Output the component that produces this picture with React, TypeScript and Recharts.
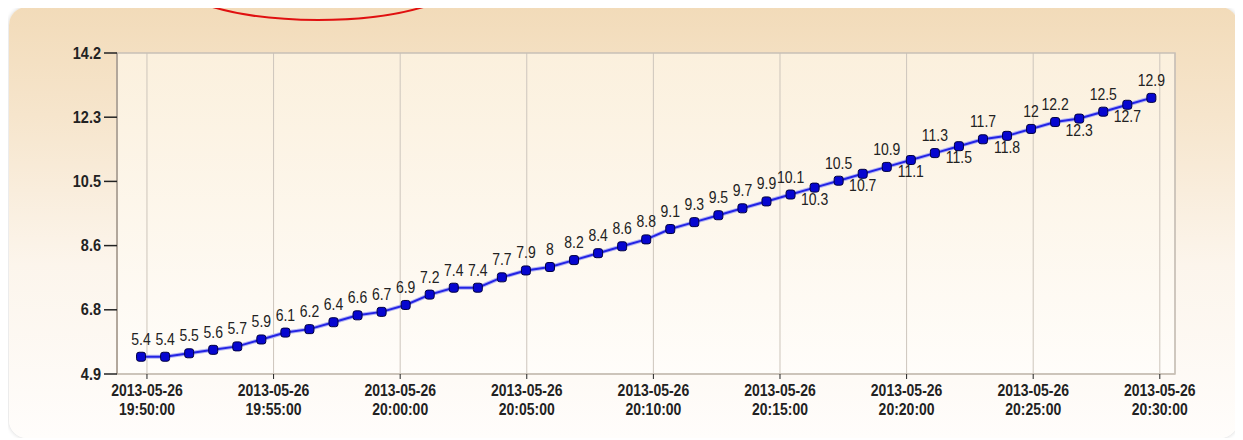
import React from 'react';
import { LineChart, Line, XAxis, YAxis, CartesianGrid, ReferenceArea, LabelList } from 'recharts';

// sample times (hh:mm:ss, 2013-05-26) and values
const times = [
  '19:49:46', '19:50:43', '19:51:40', '19:52:37', '19:53:34', '19:54:31', '19:55:28', '19:56:25',
  '19:57:22', '19:58:19', '19:59:16', '20:00:13', '20:01:10', '20:02:07', '20:03:04', '20:04:01',
  '20:04:58', '20:05:55', '20:06:52', '20:07:49', '20:08:46', '20:09:43', '20:10:40', '20:11:37',
  '20:12:34', '20:13:31', '20:14:28', '20:15:25', '20:16:22', '20:17:19', '20:18:16', '20:19:13',
  '20:20:10', '20:21:07', '20:22:04', '20:23:01', '20:23:58', '20:24:55', '20:25:52', '20:26:49',
  '20:27:46', '20:28:43', '20:29:40',
];
const values = [
  5.4, 5.4, 5.5, 5.6, 5.7, 5.9, 6.1, 6.2, 6.4, 6.6, 6.7, 6.9, 7.2, 7.4, 7.4, 7.7, 7.9, 8, 8.2, 8.4,
  8.6, 8.8, 9.1, 9.3, 9.5, 9.7, 9.9, 10.1, 10.3, 10.5, 10.7, 10.9, 11.1, 11.3, 11.5, 11.7, 11.8, 12,
  12.2, 12.3, 12.5, 12.7, 12.9,
];
// labels drawn under the point instead of above
const labelsBelow = [28, 30, 32, 34, 36, 39, 41];

const tickDate = '2013-05-26';
const xTickTimes = [
  '19:50:00', '19:55:00', '20:00:00', '20:05:00', '20:10:00', '20:15:00', '20:20:00', '20:25:00', '20:30:00',
];
const yTicks = [4.9, 6.76, 8.62, 10.48, 12.34, 14.2];

const BASE = 19 * 3600 + 50 * 60;
const toSec = (s: string) => {
  const [h, m, sec] = s.split(':').map(Number);
  return h * 3600 + m * 60 + sec - BASE;
};
const fromSec = (t: number) => {
  const s = t + BASE;
  const pad = (n: number) => String(n).padStart(2, '0');
  return `${pad(Math.floor(s / 3600))}:${pad(Math.floor((s % 3600) / 60))}:${pad(s % 60)}`;
};

const data = times.map((t, i) => ({ t: toSec(t), v: values[i] }));
const xTicks = xTickTimes.map(toSec);
const X_DOMAIN = [-71, 2436];

const FONT = '"Liberation Sans", Arial, sans-serif';

// the original font is taller and narrower, so stretch the text a little
const XTick = (props: any) => {
  const { x, y, payload } = props;
  return (
    <g transform={`translate(${x} ${y}) scale(1 1.18)`}>
      <text x={0} y={0} textAnchor="middle" fontFamily={FONT} fontSize={14} fontWeight="bold" fill="#222">
        <tspan x={0} dy={13}>{tickDate}</tspan>
        <tspan x={0} dy={16}>{fromSec(payload.value)}</tspan>
      </text>
    </g>
  );
};

const YTick = (props: any) => {
  const { x, y, payload } = props;
  return (
    <g transform={`translate(${x} ${y}) scale(1 1.12)`}>
      <text x={0} y={5} textAnchor="end" fontFamily={FONT} fontSize={14.5} fontWeight="bold" fill="#222">
        {Number(payload.value).toFixed(1)}
      </text>
    </g>
  );
};

const Dot = (props: any) => {
  const { cx, cy, index } = props;
  if (cx == null || cy == null) return null;
  return <rect key={`d${index}`} x={cx - 4.5} y={cy - 4.5} width={9} height={9} rx={2.5} fill="#0606d0" stroke="#000040" strokeWidth={1} />;
};

const PointLabel = (props: any) => {
  const { x, y, value, index } = props;
  const below = labelsBelow.includes(index);
  return (
    <g transform={`translate(${x} ${below ? y + 17 : y - 12}) scale(1 1.14)`}>
      <text x={0} y={0} textAnchor="middle" fontFamily={FONT} fontSize={14} fill="#222">
        {String(value)}
      </text>
    </g>
  );
};

export default function App() {
  return (
    <div
      style={{
        position: 'relative',
        marginLeft: 1,
        marginTop: -1,
        width: 1229,
        height: 431,
        borderRadius: 18,
        background: 'linear-gradient(to bottom, #f2dbb9 0%, #f6e5cc 25%, #fcf5ec 60%, #fffdfb 100%)',
        boxShadow: '0 0 4px rgba(0,0,0,0.18)',
      }}
    >
      <LineChart width={1229} height={431} data={data} margin={{ top: 46, right: 63, bottom: 0, left: 0 }}>
        <defs>
          <linearGradient id="plotBg" x1="0" y1="0" x2="0" y2="1">
            <stop offset="0%" stopColor="#fbf0dd" />
            <stop offset="100%" stopColor="#fffdfa" />
          </linearGradient>
        </defs>
        <CartesianGrid horizontal={false} stroke="#cdc5bc" fill="url(#plotBg)" />
        <ReferenceArea x1={X_DOMAIN[0]} x2={X_DOMAIN[1]} y1={4.9} y2={14.2} fill="none" stroke="#c8c0b6" strokeWidth={1.5} />
        <XAxis
          type="number"
          dataKey="t"
          domain={X_DOMAIN}
          ticks={xTicks}
          allowDataOverflow
          height={64}
          tickSize={5}
          axisLine={{ stroke: '#c8c0b6', strokeWidth: 1.5 }}
          tickLine={{ stroke: '#222' }}
          tick={<XTick />}
          interval={0}
        />
        <YAxis
          type="number"
          domain={[4.9, 14.2]}
          ticks={yTicks}
          width={108}
          tickSize={13}
          tickMargin={3}
          axisLine={{ stroke: '#a89c90', strokeWidth: 1.5 }}
          tickLine={{ stroke: '#222', strokeWidth: 1.5 }}
          tick={<YTick />}
          interval={0}
        />
        <Line type="linear" dataKey="v" stroke="#b4b4f4" strokeWidth={4} dot={false} activeDot={false} isAnimationActive={false} />
        <Line type="linear" dataKey="v" stroke="#2424e4" strokeWidth={2} dot={<Dot />} activeDot={false} isAnimationActive={false}>
          <LabelList dataKey="v" content={<PointLabel />} />
        </Line>
      </LineChart>
      <svg
        width={1243}
        height={60}
        style={{ position: 'absolute', left: -9, top: -7, overflow: 'visible', pointerEvents: 'none' }}
      >
        <ellipse cx={318} cy={-25} rx={150} ry={45} fill="none" stroke="#e01010" strokeWidth={2} />
      </svg>
    </div>
  );
}
